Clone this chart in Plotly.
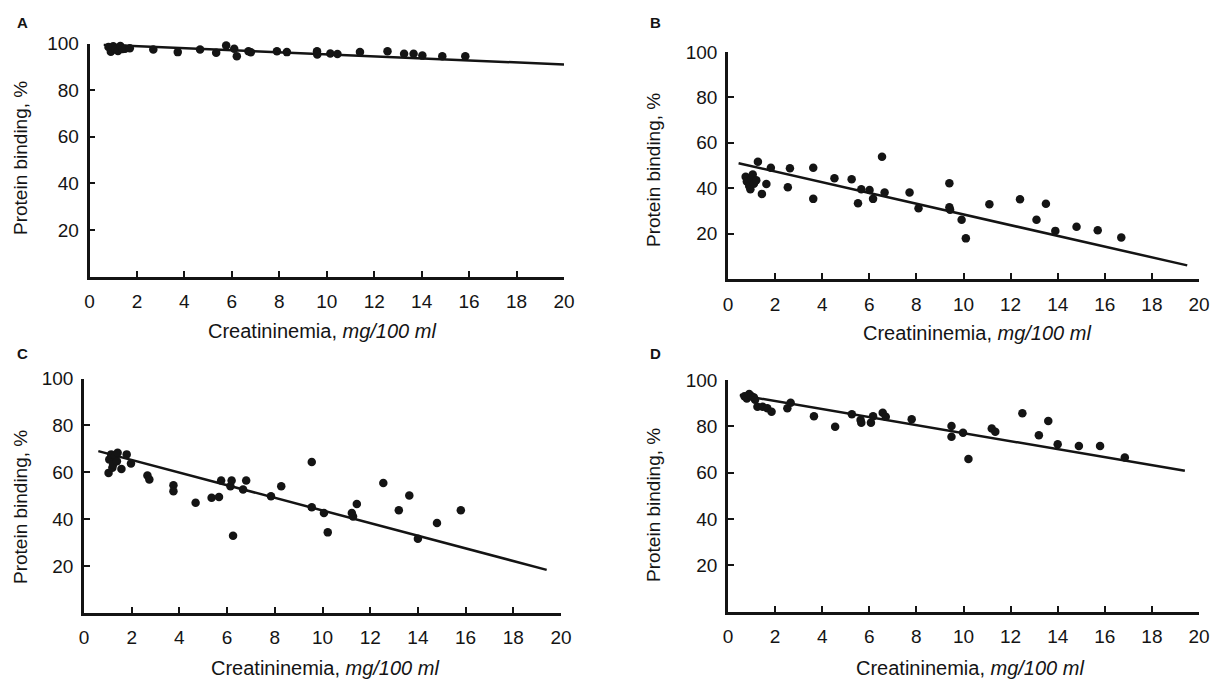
import plotly.graph_objects as go

# ---------------- data ----------------
x_ticks = [0, 2, 4, 6, 8, 10, 12, 14, 16, 18, 20]
y_ticks = [20, 40, 60, 80, 100]
x_title = "Creatininemia, <i>mg/100 ml</i>"
y_title = "Protein binding, %"
panel_labels = ["A", "B", "C", "D"]

a_x = [0.8, 0.9, 1.0, 1.1, 1.2, 1.3, 1.4, 1.5, 1.7, 2.69, 3.72, 4.66, 5.34, 5.76, 6.1, 6.21, 6.7, 6.8,
       7.9, 8.32, 9.59, 9.6, 10.15, 10.45, 11.4, 12.56, 13.26, 13.66, 14.03, 14.87, 15.84]
a_y = [98.5, 96.5, 98.8, 97.5, 96.8, 98.9, 97.6, 97.8, 98.0, 97.4, 96.3, 97.4, 96.0, 99.1, 97.7, 94.5, 96.7, 96.2,
       96.7, 96.3, 96.7, 95.3, 95.7, 95.5, 96.3, 96.7, 95.6, 95.6, 94.8, 94.5, 94.5]
a_line_x = [0.6, 20.0]
a_line_y = [99.5, 91.0]

b_x = [0.75, 0.8, 0.9, 0.95, 1.0, 1.05, 1.1, 1.2, 1.27, 1.44, 1.63, 1.82, 2.54, 2.63, 3.62, 3.62, 4.52,
       5.25, 5.52, 5.66, 6.01, 6.16, 6.54, 6.65, 7.71, 8.09, 9.4, 9.4, 9.43, 9.92, 10.1, 11.1, 12.4,
       13.1, 13.5, 13.9, 14.8, 15.7, 16.7]
b_y = [45.0, 43.0, 41.0, 39.5, 44.0, 46.0, 42.0, 43.5, 51.7, 37.5, 41.9, 49.0, 40.4, 48.8, 49.0, 35.3, 44.4,
       43.9, 33.4, 39.5, 39.2, 35.3, 53.9, 38.1, 38.1, 31.2, 42.2, 31.6, 30.5, 26.1, 17.9, 32.9, 35.1,
       26.1, 33.1, 21.2, 23.0, 21.5, 18.3]
b_line_x = [0.45, 19.5]
b_line_y = [51.0, 6.0]

c_x = [1.03, 1.06, 1.14, 1.19, 1.22, 1.3, 1.38, 1.41, 1.57, 1.79, 1.97, 2.66, 2.74, 3.75, 3.75, 4.68,
       5.35, 5.66, 5.75, 6.14, 6.19, 6.25, 6.67, 6.8, 7.84, 8.27, 9.55, 9.55, 10.06, 10.22, 11.23, 11.28,
       11.44, 12.55, 13.2, 13.64, 14.0, 14.8, 15.8]
c_y = [59.7, 65.4, 67.6, 61.9, 63.3, 66.9, 64.7, 68.3, 61.4, 67.6, 63.7, 58.6, 56.9, 54.4, 51.9, 46.9,
       49.1, 49.4, 56.4, 54.0, 56.4, 32.9, 52.6, 56.4, 49.7, 54.0, 64.3, 45.0, 42.6, 34.3, 42.6, 41.1,
       46.4, 55.4, 43.7, 50.0, 31.6, 38.3, 43.7]
c_line_x = [0.6, 19.4]
c_line_y = [69.0, 18.3]

d_x = [0.7, 0.8, 0.9, 1.0, 1.1, 1.15, 1.25, 1.47, 1.67, 1.85, 2.52, 2.66, 3.65, 4.55, 5.26, 5.63, 5.66,
       6.07, 6.16, 6.57, 6.7, 7.8, 9.49, 9.49, 9.98, 10.21, 11.2, 11.35, 12.5, 13.2, 13.6, 14.0, 14.9,
       15.8, 16.85]
d_y = [93.0, 92.0, 94.0, 93.0, 92.5, 91.5, 88.5, 88.5, 87.8, 86.3, 87.8, 90.2, 84.4, 79.8, 85.2, 82.7, 81.6,
       81.6, 84.4, 85.9, 84.1, 83.1, 80.1, 75.5, 77.2, 65.9, 79.1, 77.7, 85.6, 76.2, 82.3, 72.3, 71.5,
       71.5, 66.6]
d_line_x = [0.5, 19.4]
d_line_y = [93.5, 60.8]

# ---------------- layout geometry ----------------
W, H = 1212, 680
INK = "#141414"
FONT = "Liberation Sans, Arial, Helvetica, sans-serif"

# pixel boxes of the plotting areas: (left, right, top, bottom)
boxes = [(89.5, 564, 43.5, 276.5), (728, 1199, 52, 279), (84, 561, 378.5, 612.7), (728, 1199, 380, 611.7)]
xtitle_pos = [(322, 331), (977, 333), (325, 668), (970, 668)]
ytitle_pos = [(20, 158), (653, 170), (20, 507), (653, 505)]
label_pos = [(22, 23), (655, 23), (22, 353), (655, 353)]

series = [(a_x, a_y, a_line_x, a_line_y), (b_x, b_y, b_line_x, b_line_y),
          (c_x, c_y, c_line_x, c_line_y), (d_x, d_y, d_line_x, d_line_y)]

fig = go.Figure()
layout = dict(width=W, height=H, margin=dict(l=0, r=0, t=0, b=0),
              paper_bgcolor="white", plot_bgcolor="white", showlegend=False,
              font=dict(family=FONT, color=INK))
annotations = []

for i, ((px, py, lx, ly), (l, r, t, b)) in enumerate(zip(series, boxes)):
    n = "" if i == 0 else str(i + 1)
    xa, ya = "x" + n, "y" + n
    fig.add_trace(go.Scatter(x=lx, y=ly, mode="lines", line=dict(color=INK, width=2.5),
                             xaxis=xa, yaxis=ya, hoverinfo="skip"))
    fig.add_trace(go.Scatter(x=px, y=py, mode="markers", marker=dict(color=INK, size=8.5),
                             xaxis=xa, yaxis=ya, cliponaxis=False))
    layout["xaxis" + n] = dict(domain=[l / W, r / W], range=[0, 20], tickvals=x_ticks,
                               ticks="inside", ticklen=6, tickwidth=1.5, tickcolor=INK,
                               showline=True, linewidth=2.5, linecolor=INK, showgrid=False,
                               zeroline=False, tickfont=dict(size=19, color=INK), anchor=ya,
                               ticklabelstandoff=6, automargin=False, fixedrange=True)
    layout["yaxis" + n] = dict(domain=[1 - b / H, 1 - t / H], range=[0, 100], tickvals=y_ticks,
                               ticks="inside", ticklen=6, tickwidth=1.5, tickcolor=INK,
                               showline=True, linewidth=2.5, linecolor=INK, showgrid=False,
                               zeroline=False, tickfont=dict(size=19, color=INK), anchor=xa,
                               ticklabelstandoff=4, automargin=False, fixedrange=True)
    xt, yt = xtitle_pos[i]
    annotations.append(dict(text=x_title, x=xt / W, y=1 - yt / H, xref="paper", yref="paper",
                            xanchor="center", yanchor="middle", showarrow=False,
                            font=dict(size=20, color=INK)))
    xt, yt = ytitle_pos[i]
    annotations.append(dict(text=y_title, x=xt / W, y=1 - yt / H, xref="paper", yref="paper",
                            xanchor="center", yanchor="middle", showarrow=False, textangle=-90,
                            font=dict(size=19, color=INK)))
    xt, yt = label_pos[i]
    annotations.append(dict(text="<b>" + panel_labels[i] + "</b>", x=xt / W, y=1 - yt / H,
                            xref="paper", yref="paper", xanchor="center", yanchor="middle",
                            showarrow=False, font=dict(size=15, color=INK)))

layout["annotations"] = annotations
fig.update_layout(**layout)
fig.write_html("out.html", config={"displayModeBar": False},
               post_script="document.body.style.margin='0';document.body.style.overflow='hidden';")
